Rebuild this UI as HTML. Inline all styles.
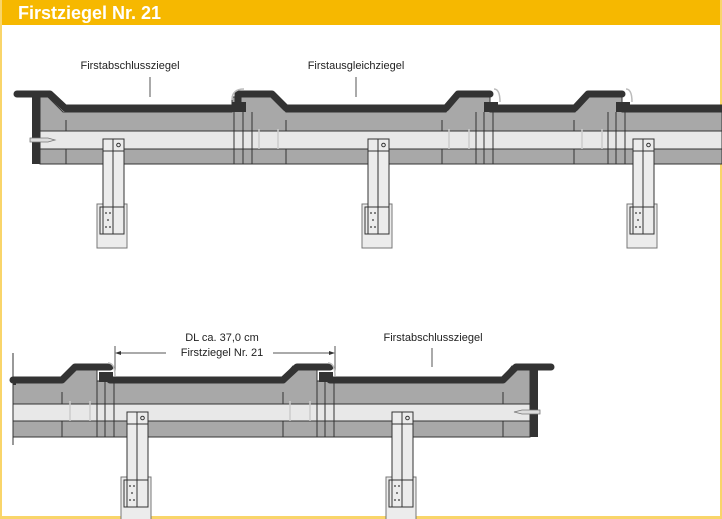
<!DOCTYPE html>
<html><head><meta charset="utf-8"><style>
html,body{margin:0;padding:0;background:#fff;}
svg{display:block;}
text{font-family:"Liberation Sans",sans-serif;}
</style></head><body>
<svg width="722" height="519" viewBox="0 0 722 519" xmlns="http://www.w3.org/2000/svg">
<rect x="0" y="0" width="722" height="519" fill="#fff"/>
<rect x="0" y="0" width="722" height="25" fill="#f6b800"/>
<rect x="0" y="0" width="2" height="519" fill="#f9d56a"/>
<rect x="720" y="0" width="2" height="519" fill="#f9d56a"/>
<rect x="0" y="516" width="722" height="3" fill="#f9d56a"/>
<text x="18" y="19" font-size="18" font-weight="bold" fill="#fff">Firstziegel Nr. 21</text>

<!-- TOP labels -->
<g font-size="11" fill="#222">
<text x="130" y="69" text-anchor="middle">Firstabschlussziegel</text>
<text x="356" y="69" text-anchor="middle">Firstausgleichziegel</text>
<text x="433" y="341" text-anchor="middle">Firstabschlussziegel</text>
<text x="222" y="341" text-anchor="middle">DL ca. 37,0 cm</text>
<text x="222" y="356" text-anchor="middle">Firstziegel Nr. 21</text>
</g>
<g stroke="#555" stroke-width="1">
<line x1="150" y1="77" x2="150" y2="97"/>
<line x1="356" y1="77" x2="356" y2="97"/>
<line x1="432" y1="348" x2="432" y2="367"/>
<line x1="115" y1="346" x2="115" y2="372"/>
<line x1="335" y1="346" x2="335" y2="372"/>
<line x1="117" y1="353" x2="166" y2="353"/>
<line x1="273" y1="353" x2="333" y2="353"/>
</g>
<polygon points="115,353 121,351 121,355" fill="#333"/>
<polygon points="335,353 329,351 329,355" fill="#333"/>

<!-- TOP body -->
<polygon points="40,97 48,97 63,112 232,112 232,97 272,97 286,112 446,112 458,97 490,97 490,112 575,112 588,97 622,97 622,112 722,112 722,164 40,164" fill="#a8a8a8" stroke="#333" stroke-width="1"/>
<rect x="40" y="131" width="682" height="18" fill="#e8e8e8" stroke="#333" stroke-width="1"/>
<g stroke="#333" stroke-width="1">
<line x1="66" y1="120" x2="66" y2="131"/><line x1="66" y1="149" x2="66" y2="164"/>
<line x1="234" y1="112" x2="234" y2="164"/><line x1="243" y1="112" x2="243" y2="164"/><line x1="252" y1="112" x2="252" y2="164"/>
<line x1="286" y1="120" x2="286" y2="131"/><line x1="286" y1="149" x2="286" y2="164"/>
<line x1="442" y1="120" x2="442" y2="131"/><line x1="442" y1="149" x2="442" y2="164"/>
<line x1="476" y1="112" x2="476" y2="164"/><line x1="484" y1="112" x2="484" y2="164"/><line x1="493" y1="112" x2="493" y2="164"/>
<line x1="574" y1="120" x2="574" y2="131"/><line x1="574" y1="149" x2="574" y2="164"/>
<line x1="608" y1="112" x2="608" y2="164"/><line x1="616" y1="112" x2="616" y2="164"/><line x1="625" y1="112" x2="625" y2="164"/>
</g>
<g stroke="#ccc" stroke-width="1.5">
<line x1="259" y1="129" x2="259" y2="149"/><line x1="278" y1="129" x2="278" y2="149"/>
<line x1="449" y1="129" x2="449" y2="149"/><line x1="469" y1="129" x2="469" y2="149"/>
<line x1="582" y1="129" x2="582" y2="149"/><line x1="602" y1="129" x2="602" y2="149"/>
</g>
<g fill="none" stroke="#333" stroke-width="7" stroke-linejoin="round" stroke-linecap="round">
<polyline points="17,94 50,94 65,108 232,108"/>
<polyline points="238,108 238,94 272,94 286,108 446,108 458,94 490,94"/>
<polyline points="490,108 575,108 588,94 622,94"/>
<polyline points="622,108 722,108"/>
</g>
<rect x="32" y="94" width="8" height="70" fill="#333"/>
<rect x="232" y="102" width="14" height="10" fill="#333"/>
<rect x="484" y="102" width="14" height="10" fill="#333"/>
<rect x="616" y="102" width="14" height="10" fill="#333"/>
<path d="M232,100 Q232,89 244,89" fill="none" stroke="#bbb" stroke-width="1.5"/>
<path d="M494,89 Q500,89 500,102" fill="none" stroke="#bbb" stroke-width="1.5"/>
<path d="M626,89 Q632,89 632,102" fill="none" stroke="#bbb" stroke-width="1.5"/>
<polygon points="30,138 48,138 55,140 48,142 30,142" fill="#ddd" stroke="#777" stroke-width="0.8"/>

<!-- posts top -->
<g id="post">
<rect x="97" y="204" width="30" height="44" fill="#ececec" stroke="#777" stroke-width="1"/>
<rect x="103" y="139" width="21" height="95" fill="#ececec" stroke="#333" stroke-width="1"/>
<line x1="113" y1="139" x2="113" y2="234" stroke="#333" stroke-width="1"/>
<line x1="103" y1="151" x2="124" y2="151" stroke="#333" stroke-width="1"/>
<circle cx="118.5" cy="145" r="1.8" fill="none" stroke="#333"/>
<rect x="100" y="207" width="24" height="27" fill="none" stroke="#333" stroke-width="1"/>
<g fill="#333"><circle cx="106" cy="213" r="0.9"/><circle cx="110" cy="213" r="0.9"/><circle cx="108" cy="220" r="0.9"/><circle cx="106" cy="227" r="0.9"/><circle cx="110" cy="227" r="0.9"/></g>
</g>
<use href="#post" x="265"/>
<use href="#post" x="530"/>

<!-- BOTTOM body -->
<polygon points="13,381 60,381 72,366 97,366 97,381 280,381 293,366 317,366 317,381 500,381 512,366 530,366 530,437 13,437" fill="#a8a8a8" stroke="#333" stroke-width="1"/>
<rect x="13" y="404" width="517" height="17" fill="#e8e8e8" stroke="#333" stroke-width="1"/>
<g stroke="#333" stroke-width="1">
<line x1="62" y1="392" x2="62" y2="404"/><line x1="62" y1="421" x2="62" y2="437"/>
<line x1="97" y1="381" x2="97" y2="437"/><line x1="105" y1="381" x2="105" y2="437"/><line x1="114" y1="381" x2="114" y2="437"/>
<line x1="283" y1="392" x2="283" y2="404"/><line x1="283" y1="421" x2="283" y2="437"/>
<line x1="317" y1="381" x2="317" y2="437"/><line x1="325" y1="381" x2="325" y2="437"/><line x1="334" y1="381" x2="334" y2="437"/>
<line x1="503" y1="392" x2="503" y2="404"/><line x1="503" y1="421" x2="503" y2="437"/>
<line x1="13" y1="353" x2="13" y2="445"/>
</g>
<g stroke="#ccc" stroke-width="1.5">
<line x1="70" y1="401" x2="70" y2="421"/><line x1="90" y1="401" x2="90" y2="421"/>
<line x1="290" y1="401" x2="290" y2="421"/><line x1="310" y1="401" x2="310" y2="421"/>
</g>
<g fill="none" stroke="#333" stroke-width="7" stroke-linejoin="round" stroke-linecap="round">
<polyline points="13,380 62,380 75,367 110,367"/>
<polyline points="110,380 283,380 297,367 330,367"/>
<polyline points="330,380 503,380 516,367 551,367"/>
</g>
<rect x="13" y="377" width="3" height="8" fill="#333"/>
<rect x="99" y="372" width="14" height="10" fill="#333"/>
<rect x="319" y="372" width="14" height="10" fill="#333"/>
<rect x="530" y="364" width="8" height="73" fill="#333"/>
<path d="M108,363 Q115,363 115,376" fill="none" stroke="#bbb" stroke-width="1.5"/>
<path d="M328,363 Q335,363 335,376" fill="none" stroke="#bbb" stroke-width="1.5"/>
<polygon points="540,410 522,410 514,412 522,414 540,414" fill="#ddd" stroke="#777" stroke-width="0.8"/>

<use href="#post" x="24" y="273"/>
<use href="#post" x="289" y="273"/>
</svg>
</body></html>
